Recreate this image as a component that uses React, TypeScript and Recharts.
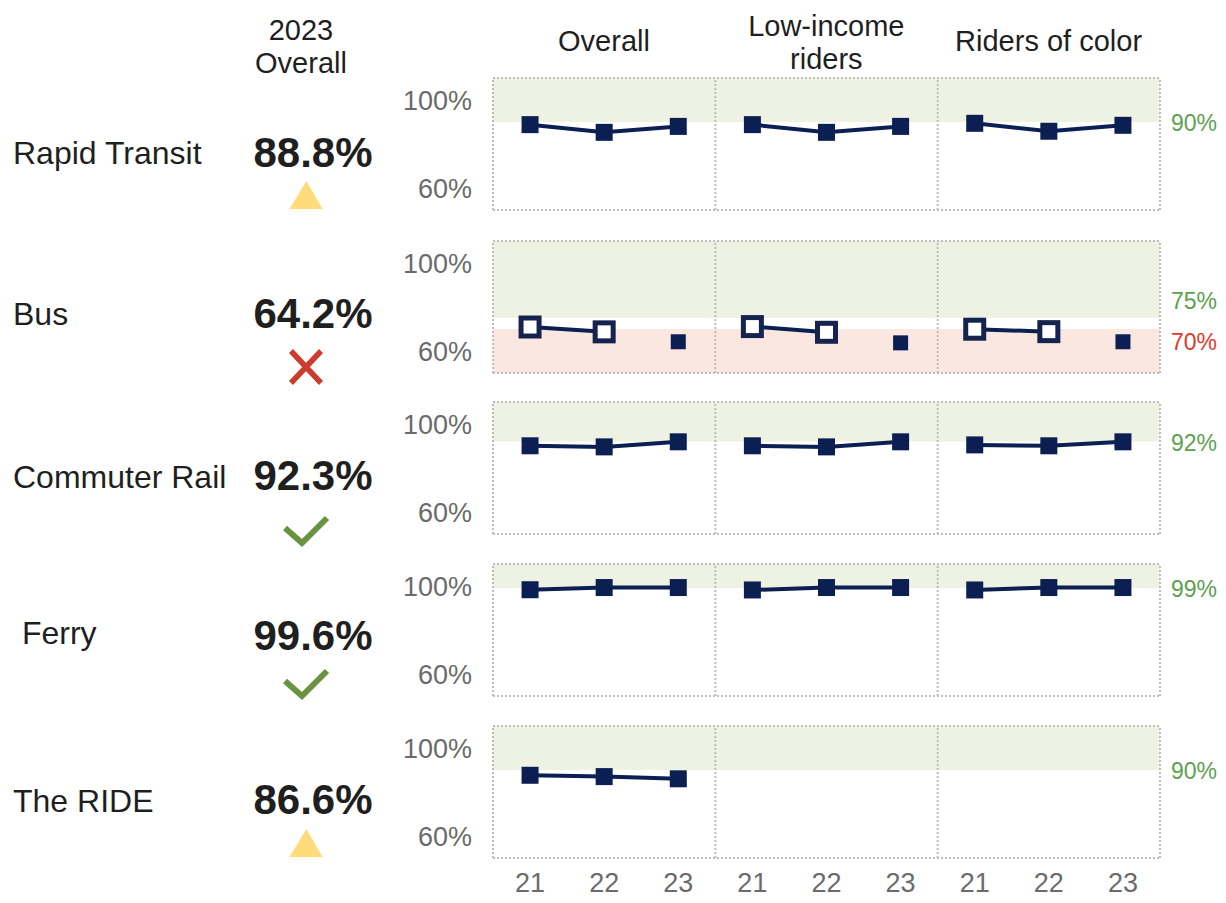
import React from 'react';
import { LineChart, Line, XAxis, YAxis, ReferenceArea, ReferenceLine } from 'recharts';

const FONT = '"Liberation Sans", Arial, Helvetica, sans-serif';
const NAVY = '#0b1f52';
const GRID = '#bdbdbd';
const GRAY = '#6b6b6b';
const INK = '#1f1f1f';

// categories
const years = ['21', '22', '23'];
const groups = [['Overall'], ['Low-income', 'riders'], ['Riders of color']];
const modes = ['Rapid Transit', 'Bus', 'Commuter Rail', ' Ferry', 'The RIDE'];
const overall2023 = ['88.8%', '64.2%', '92.3%', '99.6%', '86.6%'];
const status = ['warn', 'fail', 'pass', 'pass', 'warn'];

// values per group (Overall, Low-income, Riders of color) x year (21, 22, 23)
const rapidTransit = [[88.8, 85.3, 88.0], [88.8, 85.3, 88.0], [89.4, 85.8, 88.5]];
const bus = [[70.9, 68.7, 64.2], [71.1, 68.5, 63.7], [69.9, 68.8, 64.2]];
const commuterRail = [[90.1, 89.6, 91.9], [90.1, 89.6, 91.9], [90.5, 90.1, 91.9]];
const ferry = [[98.3, 99.3, 99.3], [98.2, 99.3, 99.3], [98.2, 99.3, 99.3]];
const theRide = [[87.6, 87.0, 86.0], [null, null, null], [null, null, null]];
const modeValues = [rapidTransit, bus, commuterRail, ferry, theRide];

// targets
const goalTargets = [90, 75, 92, 99, 90];
const minTargets: (number | null)[] = [null, 70, null, null, null];
// years drawn with open markers
const openYears: string[][] = [[], ['21', '22'], [], [], []];

const rowTops = [78, 241, 402, 564, 726];
const PLOT_H = 132;

function buildRow(m: number) {
  const rows: any[] = [];
  for (let i = 0; i < 9; i++) {
    const g = Math.floor(i / 3);
    const y = i % 3;
    const entry: any = { x: i + 0.5 };
    const v = modeValues[m][g][y];
    if (v != null) {
      if (openYears[m].includes(years[y])) entry[`o${g}`] = v;
      else entry[`s${g}`] = v;
    }
    rows.push(entry);
  }
  return rows;
}

const solidDot = (size: number) => (props: any) => {
  const { cx, cy, index } = props;
  if (cx == null || cy == null) return <g key={`s${index}`} />;
  return <rect key={`s${index}`} x={cx - size / 2} y={cy - size / 2} width={size} height={size} fill={NAVY} />;
};

const openDot = (props: any) => {
  const { cx, cy, index } = props;
  if (cx == null || cy == null) return <g key={`o${index}`} />;
  return (
    <rect key={`o${index}`} x={cx - 9} y={cy - 9} width={18} height={18} fill="#fff" stroke="#17234f" strokeWidth={5} />
  );
};

const TargetLabel = (props: any) => {
  const { viewBox, v, m } = props;
  if (!viewBox) return null;
  const isMin = minTargets[m] === v;
  const hasBoth = minTargets[m] != null;
  const dy = hasBoth ? (isMin ? 13 : -17) : 1;
  return (
    <text
      x={viewBox.x + viewBox.width + 11}
      y={viewBox.y + dy}
      fill={isMin ? '#e0392b' : '#5ea050'}
      fontSize={23}
      fontFamily={FONT}
      dominantBaseline="central"
      textAnchor="start"
    >
      {`${v}%`}
    </text>
  );
};

function RowChart({ m }: { m: number }) {
  const last = m === modes.length - 1;
  const data = buildRow(m);
  const small = openYears[m].length > 0;
  const targets = minTargets[m] != null ? [goalTargets[m], minTargets[m] as number] : [goalTargets[m]];
  return (
    <LineChart
      width={1226}
      height={PLOT_H + 8 + (last ? 44 : 0)}
      data={data}
      margin={{ top: 4, right: 66, bottom: 4, left: 0 }}
      style={{ position: 'absolute', left: 0, top: rowTops[m] - 4, overflow: 'visible' }}
    >
      <XAxis
        type="number"
        dataKey="x"
        domain={[0, 9]}
        ticks={[0.5, 1.5, 2.5, 3.5, 4.5, 5.5, 6.5, 7.5, 8.5]}
        tickFormatter={(v) => years[Math.floor(v) % 3]}
        hide={!last}
        height={44}
        axisLine={false}
        tickLine={false}
        tickSize={0}
        tickMargin={15}
        tick={{ fill: GRAY, fontSize: 27, fontFamily: FONT }}
      />
      <YAxis
        domain={[50, 110]}
        ticks={[60, 100]}
        tickFormatter={(v) => `${v}%`}
        width={493}
        axisLine={false}
        tickLine={false}
        tickSize={0}
        tickMargin={21}
        tick={{ fill: GRAY, fontSize: 27, fontFamily: FONT }}
      />
      <ReferenceArea x1={0} x2={9} y1={goalTargets[m]} y2={110} fill="#eef2e2" fillOpacity={1} stroke="none" />
      {minTargets[m] != null && (
        <ReferenceArea x1={0} x2={9} y1={50} y2={minTargets[m] as number} fill="#fae8e0" fillOpacity={1} stroke="none" />
      )}
      {[0, 3, 6, 9].map((x) => (
        <ReferenceLine key={`v${x}`} x={x} stroke={GRID} strokeWidth={2} strokeDasharray="2 2" />
      ))}
      {[50, 110].map((y) => (
        <ReferenceLine key={`h${y}`} y={y} stroke={GRID} strokeWidth={2} strokeDasharray="2 2" />
      ))}
      {targets.map((t) => (
        <ReferenceLine key={`t${t}`} y={t} stroke="none" label={<TargetLabel v={t} m={m} />} />
      ))}
      {[0, 1, 2].map((g) => (
        <Line
          key={`o${g}`}
          dataKey={`o${g}`}
          stroke={NAVY}
          strokeWidth={4}
          dot={openDot}
          activeDot={false}
          connectNulls={false}
          isAnimationActive={false}
        />
      ))}
      {[0, 1, 2].map((g) => (
        <Line
          key={`s${g}`}
          dataKey={`s${g}`}
          stroke={NAVY}
          strokeWidth={4}
          dot={solidDot(small ? 15 : 17)}
          activeDot={false}
          connectNulls={false}
          isAnimationActive={false}
        />
      ))}
    </LineChart>
  );
}

function Icon({ kind, cy }: { kind: string; cy: number }) {
  if (kind === 'warn') {
    return (
      <svg width={40} height={34} style={{ position: 'absolute', left: 286, top: cy - 17 }}>
        <polygon points="3.5,31 20.5,3 36.5,31" fill="#ffdb7a" />
      </svg>
    );
  }
  if (kind === 'fail') {
    return (
      <svg width={40} height={40} style={{ position: 'absolute', left: 286, top: cy - 20 }}>
        <path d="M5,4 L35,36 M35,4 L5,36" stroke="#cc3b2d" strokeWidth={5.5} fill="none" />
      </svg>
    );
  }
  return (
    <svg width={50} height={36} style={{ position: 'absolute', left: 281, top: cy - 18 }}>
      <polyline points="4,16 21,31 46,6" stroke="#6a9341" strokeWidth={6} fill="none" />
    </svg>
  );
}

const labelCenters = [153, 314, 477, 633, 801];
const valueCenters = [153, 314, 476, 636, 800];
const iconCenters = [195, 367, 530, 683, 843];

function TextAt({ text, cx, cy, size, bold, left, color }: any) {
  const lh = size * 1.2;
  const style: React.CSSProperties = {
    position: 'absolute',
    top: cy - lh / 2,
    fontSize: size,
    lineHeight: `${lh}px`,
    fontWeight: bold ? 700 : 400,
    color: color || INK,
    whiteSpace: 'pre',
  };
  if (left != null) style.left = left;
  else {
    style.left = cx - 200;
    style.width = 400;
    style.textAlign = 'center';
  }
  return <div style={style}>{text}</div>;
}

export default function App() {
  return (
    <div style={{ position: 'absolute', left: 0, top: 0, width: 1226, height: 903, background: '#fff', fontFamily: FONT, overflow: 'hidden' }}>
      <TextAt text="2023" cx={301} cy={30} size={29} />
      <TextAt text="Overall" cx={301} cy={63} size={29} />
      {groups.map((lines, g) =>
        lines.length === 1 ? (
          <TextAt key={g} text={lines[0]} cx={604 + g * 222.3} cy={41} size={29} />
        ) : (
          lines.map((t, k) => <TextAt key={`${g}-${k}`} text={t} cx={604 + g * 222.3} cy={26 + k * 33} size={29} />)
        )
      )}
      {modes.map((name, m) => (
        <React.Fragment key={name}>
          <TextAt text={name} left={13} cy={labelCenters[m]} size={32} />
          <TextAt text={overall2023[m]} cx={313} cy={valueCenters[m]} size={42} bold />
          <Icon kind={status[m]} cy={iconCenters[m]} />
          <RowChart m={m} />
        </React.Fragment>
      ))}
    </div>
  );
}
